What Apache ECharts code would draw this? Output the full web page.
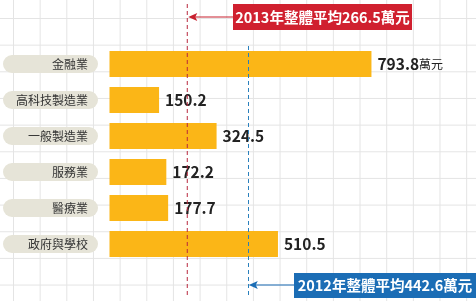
<!DOCTYPE html>
<html><head><meta charset="utf-8">
<script src="https://cdn.jsdelivr.net/npm/echarts@6/dist/echarts.min.js"></script>
<style>
html,body{margin:0;padding:0;background:#fff;}
#c{width:476px;height:301px;
background-image:linear-gradient(#e4e4e4 1px,transparent 1px),linear-gradient(90deg,#e4e4e4 1px,transparent 1px);
background-size:26.67px 26.67px;background-position:13px 18px;}
</style></head>
<body><div id="c"></div>
<script>
const categories = ['金融業','高科技製造業','一般製造業','服務業','醫療業','政府與學校'];
const salaries = [793.8,150.2,324.5,172.2,177.7,510.5];
const unitText = '萬元';
const avg2013Text = '2013年整體平均266.5萬元';
const avg2012Text = '2012年整體平均442.6萬元';
// positions of the average lines as drawn in the picture (axis units)
const avg2013Line = 238;
const avg2012Line = 419;

const RED_LINE = '#b8283e', BLUE_LINE = '#2a80bd';
const FONT = '"Noto Sans CJK TC","Noto Sans",sans-serif';
const chart = echarts.init(document.getElementById('c'), null, {renderer:'canvas'});
const xCommon = {type:'value', min:0, max:1000, show:false};
chart.setOption({
  backgroundColor:'transparent',
  animation:false,
  grid:[
    {left:108.5, right:36.5, top:46, bottom:3},
    {left:108.5, right:36.5, top:4, bottom:6}
  ],
  xAxis:[Object.assign({gridIndex:0},xCommon), Object.assign({gridIndex:1},xCommon)],
  yAxis:[
    {gridIndex:0, type:'category', inverse:true, data:categories.concat(['']),
     axisLine:{show:false}, axisTick:{show:false}, splitLine:{show:false},
     axisLabel:{margin:11.5, formatter:v=> v ? '{p|'+v+'}' : '',
       rich:{p:{backgroundColor:'#e6e4d8', borderRadius:10, width:75, align:'right',
         padding:[3,10,3,10], fontSize:12, lineHeight:13, color:'#333', fontFamily:FONT}}}},
    {gridIndex:1, type:'value', min:0, max:1, show:false}
  ],
  series:[
    {type:'bar', xAxisIndex:0, yAxisIndex:0, data:salaries, barWidth:26,
     itemStyle:{color:'#fbb617'},
     label:{show:true, position:'right', distance:6,
       formatter:p=> p.dataIndex===0 ? '{v|'+p.value+'}{u|'+unitText+'}' : '{v|'+p.value+'}',
       rich:{v:{fontSize:15.5, fontWeight:'bold', color:'#222', fontFamily:FONT},
             u:{fontSize:12, color:'#222', fontFamily:FONT, padding:[1,0,0,0]}}},
     markLine:{silent:true, symbol:'none', label:{show:false},
       lineStyle:{color:BLUE_LINE, type:[4,3], width:1, opacity:1},
       emphasis:{disabled:true},
       data:[{xAxis:avg2012Line}]}},
    {type:'line', xAxisIndex:1, yAxisIndex:1, silent:true, symbol:'none', z:3,
     data:[[avg2013Line,0],[avg2013Line,1]],
     lineStyle:{color:RED_LINE, type:[4,3], width:1}}
  ]
});

const xr = chart.convertToPixel({xAxisIndex:1}, avg2013Line);
const xb = chart.convertToPixel({xAxisIndex:0}, avg2012Line);
function arrow(x1, x2, y, color){
  return [
    {type:'line', shape:{x1:x1+6, y1:y, x2:x2, y2:y}, style:{stroke:color, lineWidth:1.2}},
    {type:'polygon', shape:{points:[[x1+1,y],[x1+10,y-4],[x1+8,y],[x1+10,y+4]]}, style:{fill:color}}
  ];
}
chart.setOption({graphic:[
  ...arrow(xr, 233, 17, '#c8202f'),
  {type:'rect', shape:{x:233, y:4, width:179, height:26}, style:{fill:'#d0202f'}},
  {type:'text', x:322.5, y:17.5, style:{text:avg2013Text, fill:'#fff', font:'bold 14.5px '+FONT, align:'center', verticalAlign:'middle'}},
  ...arrow(xb, 294, 285, '#1b6db5'),
  {type:'rect', shape:{x:294, y:273, width:182, height:25}, style:{fill:'#1b6db5'}},
  {type:'text', x:385, y:285.5, style:{text:avg2012Text, fill:'#fff', font:'bold 14.5px '+FONT, align:'center', verticalAlign:'middle'}}
]});
</script></body></html>
